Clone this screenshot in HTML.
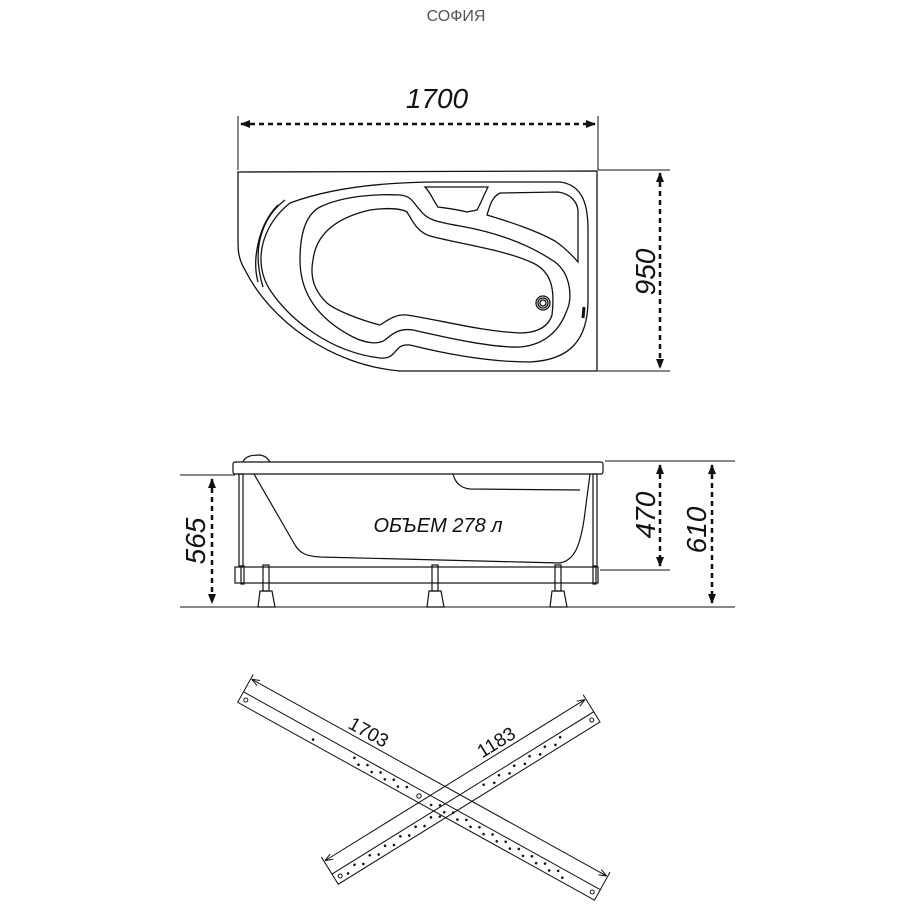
<!DOCTYPE html>
<html><head><meta charset="utf-8"><style>
html,body{margin:0;padding:0;background:#fff}
svg{display:block}
text{font-family:"Liberation Sans",sans-serif}
</style></head><body>
<svg width="912" height="912" viewBox="0 0 912 912" xmlns="http://www.w3.org/2000/svg">
<defs>
<marker id="ar" markerWidth="10" markerHeight="10" refX="9" refY="5" orient="auto-start-reverse" markerUnits="userSpaceOnUse"><path d="M0,1 L10,5 L0,9 Z" fill="#111"/></marker>
<marker id="sa" markerWidth="8" markerHeight="8" refX="7" refY="4" orient="auto-start-reverse" markerUnits="userSpaceOnUse"><path d="M0,1 L8,4 L0,7" fill="none" stroke="#111" stroke-width="1"/></marker>
</defs>
<text x="456" y="21" font-size="16" fill="#555" text-anchor="middle">СОФИЯ</text>

<!-- top view -->
<g fill="none" stroke="#111" stroke-width="1.3">
<text x="437" y="108" font-size="28" font-style="italic" fill="#111" stroke="none" text-anchor="middle">1700</text>
<line x1="238" y1="116" x2="238" y2="170" stroke-width="1"/>
<line x1="598" y1="116" x2="598" y2="170" stroke-width="1"/>
<line x1="241" y1="124" x2="595" y2="124" stroke-width="2.5" stroke-dasharray="5,4" marker-start="url(#ar)" marker-end="url(#ar)"/>
<line x1="598" y1="170" x2="670" y2="170" stroke-width="1"/>
<line x1="598" y1="371" x2="670" y2="371" stroke-width="1"/>
<line x1="660" y1="173" x2="660" y2="368" stroke-width="2.5" stroke-dasharray="5,4" marker-start="url(#ar)" marker-end="url(#ar)"/>
<text transform="translate(655,272) rotate(-90)" font-size="28" font-style="italic" fill="#111" stroke="none" text-anchor="middle">950</text>

<path d="M238,172 L597,171 L597,371 L400,371 C330,365 270,320 245,270 C238,258 238,250 238,240 Z"/>
<path d="M290,203 C330,188 380,182 440,182 L560,182 C583,185 588,205 588,230 L588,300 C588,340 570,360 530,362 C480,362 430,350 410,345 C393,343 398,360 380,358 C330,352 290,320 270,290 C252,262 262,225 290,203 Z"/>
<path d="M320,207 C345,195 380,194 400,195 C412,196 413,203 420,210 C427,220 437,222 460,226 C500,233 530,245 555,262 C572,275 572,300 567,310 C560,330 545,345 520,347 C490,348 440,336 413,330 C400,328 393,333 385,340 C378,345 365,343 353,337 C320,320 300,295 300,260 C300,235 305,215 320,207 Z"/>
<path d="M370,210 C385,208 400,208 407,212 C412,220 417,232 430,236 C465,245 505,250 533,263 C552,272 555,290 552,315 C548,328 535,333 520,333 C480,331 440,320 407,315 C395,314 388,320 380,325 C360,320 335,310 327,303 C313,290 310,275 313,260 C316,235 335,218 370,210 Z"/>
<path d="M425,187 L488,187 C483,197 480,205 477,210 L467,212 C455,209 445,208 438,207 C432,198 430,192 425,187 Z"/>
<path d="M487,215 C490,205 492,197 500,193 L558,192 C572,194 577,203 578,210 L578,262 C572,255 565,248 555,241 C535,230 510,222 487,215 Z"/>
<path d="M285,200 C265,215 250,245 263,287"/>
<path d="M278,205 C258,225 252,260 258,282"/>
<circle cx="543" cy="303" r="7"/><circle cx="543" cy="303" r="5"/><circle cx="543" cy="303" r="3"/>
<path d="M584,307 L583,318" stroke-width="3"/>
</g>

<!-- side view -->
<g fill="none" stroke="#111" stroke-width="1.2">
<line x1="605" y1="461" x2="735" y2="461" stroke-width="1"/>
<line x1="180" y1="475" x2="235" y2="475" stroke-width="1"/>
<line x1="600" y1="570" x2="670" y2="570" stroke-width="1"/>
<line x1="180" y1="607" x2="735" y2="607" stroke-width="1"/>
<line x1="212" y1="479" x2="212" y2="603" stroke-width="2.5" stroke-dasharray="5,4" marker-start="url(#ar)" marker-end="url(#ar)"/>
<line x1="660" y1="465" x2="660" y2="566" stroke-width="2.5" stroke-dasharray="5,4" marker-start="url(#ar)" marker-end="url(#ar)"/>
<line x1="712" y1="465" x2="712" y2="603" stroke-width="2.5" stroke-dasharray="5,4" marker-start="url(#ar)" marker-end="url(#ar)"/>
<text transform="translate(205,541) rotate(-90)" font-size="28" font-style="italic" fill="#111" stroke="none" text-anchor="middle">565</text>
<text transform="translate(655,515) rotate(-90)" font-size="28" font-style="italic" fill="#111" stroke="none" text-anchor="middle">470</text>
<text transform="translate(706,530) rotate(-90)" font-size="28" font-style="italic" fill="#111" stroke="none" text-anchor="middle">610</text>
<rect x="233" y="462" width="370" height="12" rx="2"/>
<path d="M243,462 C245,456 252,455 260,455 C266,456 268,459 270,462"/>
<path d="M254,474 L295,545 C300,553 305,556 320,557 L520,562 L560,563 C575,560 580,545 584,520 L590,474"/>
<path d="M453,474 C455,482 460,488 470,489 L580,490"/>
<rect x="239" y="474" width="4" height="92"/>
<rect x="593" y="474" width="4" height="92"/>
<rect x="235" y="567" width="363" height="16"/>
<g>
<rect x="263" y="565" width="6" height="26"/><path d="M260,591 L272,591 L275,607 L258,607 Z"/>
<rect x="432" y="565" width="6" height="26"/><path d="M429,591 L441,591 L444,607 L427,607 Z"/>
<rect x="555" y="565" width="6" height="26"/><path d="M552,591 L564,591 L567,607 L550,607 Z"/>
<rect x="241" y="566" width="3" height="18"/><rect x="593" y="566" width="3" height="18"/>
</g>
<text x="438" y="532" font-size="20" font-style="italic" fill="#111" stroke="none" text-anchor="middle">ОБЪЕМ 278 л</text>
</g>

<!-- cross bars -->
<g fill="none" stroke="#111" stroke-width="1">
<g transform="translate(419,796) rotate(29)">
<rect x="-204" y="-6" width="408" height="12"/>
<line x1="-204" y1="-6" x2="-204" y2="-26"/><line x1="204" y1="-6" x2="204" y2="-26"/>
<line x1="-202" y1="-21" x2="202" y2="-21" marker-start="url(#sa)" marker-end="url(#sa)"/>
<text x="-75" y="-25" font-size="19" fill="#111" stroke="none" text-anchor="middle">1703</text>
<circle cx="-198" cy="0" r="2"/><circle cx="198" cy="0" r="2"/><circle cx="0" cy="0" r="2.2"/>
<g fill="#111" stroke="none">
<circle cx="-120" cy="2" r="1.3"/>
<circle cx="-75" cy="-2" r="1.3"/><circle cx="-68" cy="2" r="1.3"/><circle cx="-60" cy="-2" r="1.3"/><circle cx="-53" cy="2" r="1.3"/><circle cx="-45" cy="-2" r="1.3"/><circle cx="-38" cy="2" r="1.3"/><circle cx="-30" cy="-2" r="1.3"/><circle cx="-23" cy="2" r="1.3"/><circle cx="-15" cy="-2" r="1.3"/>
<circle cx="15" cy="2" r="1.3"/><circle cx="23" cy="-2" r="1.3"/><circle cx="30" cy="2" r="1.3"/><circle cx="38" cy="-2" r="1.3"/><circle cx="45" cy="2" r="1.3"/><circle cx="53" cy="-2" r="1.3"/><circle cx="60" cy="2" r="1.3"/><circle cx="68" cy="-2" r="1.3"/><circle cx="75" cy="2" r="1.3"/><circle cx="83" cy="-2" r="1.3"/><circle cx="90" cy="2" r="1.3"/><circle cx="98" cy="-2" r="1.3"/><circle cx="105" cy="2" r="1.3"/><circle cx="113" cy="-2" r="1.3"/><circle cx="120" cy="2" r="1.3"/><circle cx="128" cy="-2" r="1.3"/><circle cx="135" cy="2" r="1.3"/><circle cx="143" cy="-2" r="1.3"/><circle cx="150" cy="2" r="1.3"/><circle cx="158" cy="-2" r="1.3"/><circle cx="165" cy="2" r="1.3"/>
</g>
</g>
<g transform="translate(466,798) rotate(-31.8)">
<rect x="-154" y="-6" width="308" height="12"/>
<line x1="-154" y1="-6" x2="-154" y2="-26"/><line x1="154" y1="-6" x2="154" y2="-26"/>
<line x1="-152" y1="-21" x2="152" y2="-21" marker-start="url(#sa)" marker-end="url(#sa)"/>
<text x="55" y="-25" font-size="19" fill="#111" stroke="none" text-anchor="middle">1183</text>
<circle cx="-148" cy="0" r="2"/><circle cx="148" cy="0" r="2"/>
<g fill="#111" stroke="none">
<circle cx="-140" cy="2" r="1.3"/><circle cx="-130" cy="-2" r="1.3"/><circle cx="-122" cy="2" r="1.3"/><circle cx="-112" cy="-2" r="1.3"/><circle cx="-104" cy="2" r="1.3"/><circle cx="-94" cy="-2" r="1.3"/><circle cx="-86" cy="2" r="1.3"/><circle cx="-76" cy="-2" r="1.3"/><circle cx="-68" cy="2" r="1.3"/><circle cx="-58" cy="-2" r="1.3"/><circle cx="-50" cy="2" r="1.3"/><circle cx="-40" cy="-2" r="1.3"/><circle cx="-32" cy="2" r="1.3"/>
<circle cx="22" cy="-2" r="1.3"/><circle cx="32" cy="2" r="1.3"/><circle cx="40" cy="-2" r="1.3"/><circle cx="50" cy="2" r="1.3"/><circle cx="58" cy="-2" r="1.3"/><circle cx="68" cy="2" r="1.3"/><circle cx="76" cy="-2" r="1.3"/><circle cx="86" cy="2" r="1.3"/><circle cx="94" cy="-2" r="1.3"/><circle cx="104" cy="2" r="1.3"/><circle cx="112" cy="-2" r="1.3"/>
</g>
</g>
</g>
</svg>
</body></html>
